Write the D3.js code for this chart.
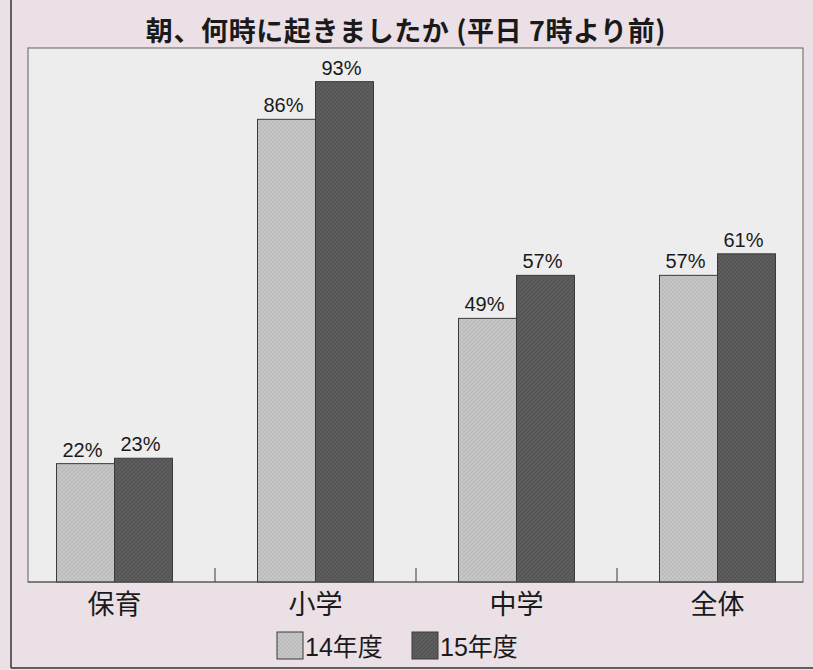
<!DOCTYPE html>
<meta charset="utf-8">
<script src="https://d3js.org/d3.v7.min.js"></script>
<style>
  body { margin: 0; background: #ebe0e6; }
  text { font-family: "Liberation Sans", "Noto Sans CJK JP", sans-serif; fill: #1a1a1a; }
</style>
<div id="my_dataviz"></div>
<script>
// data
var categories = ["保育", "小学", "中学", "全体"];
var seriesNames = ["14年度", "15年度"];
var values14 = [22, 86, 49, 57];
var values15 = [23, 93, 57, 61];
var labels14 = ["22%", "86%", "49%", "57%"];
var labels15 = ["23%", "93%", "57%", "61%"];

var W = 813, H = 670;
var plot = {left: 28, top: 48, right: 803, bottom: 582};

var svg = d3.select("#my_dataviz")
  .append("svg")
    .attr("width", W)
    .attr("height", H);

// hatch patterns for the bars
var defs = svg.append("defs");
function hatch(id, base, line) {
  var p = defs.append("pattern")
    .attr("id", id)
    .attr("patternUnits", "userSpaceOnUse")
    .attr("width", 4).attr("height", 4);
  p.append("rect").attr("width", 4).attr("height", 4).attr("fill", base);
  p.append("path").attr("d", "M0,4 L4,0").attr("stroke", line).attr("stroke-width", 0.7);
  p.append("path").attr("d", "M0,0 L4,4").attr("stroke", line).attr("stroke-width", 0.4).attr("opacity", 0.5);
}
hatch("h14", "#c6c6c6", "#b0b0b0");
hatch("h15", "#5e5e5e", "#4a4a4a");
var fills = {"14年度": "url(#h14)", "15年度": "url(#h15)"};

// outer frame
svg.append("rect")
  .attr("x", 0).attr("y", 0).attr("width", W).attr("height", H)
  .attr("fill", "#ebe0e6");
svg.append("line").attr("x1", 11).attr("x2", 11).attr("y1", 0).attr("y2", 668)
  .attr("stroke", "#333").attr("stroke-width", 1.5);
svg.append("line").attr("x1", 11).attr("x2", W).attr("y1", 668).attr("y2", 668)
  .attr("stroke", "#333").attr("stroke-width", 1.5);

// plot background
svg.append("rect")
  .attr("x", plot.left).attr("y", plot.top)
  .attr("width", plot.right - plot.left).attr("height", plot.bottom - plot.top)
  .attr("fill", "#ededed")
  .attr("stroke", "#777").attr("stroke-width", 1.2);

// title
svg.append("text")
  .attr("x", 406).attr("y", 41)
  .attr("text-anchor", "middle")
  .style("font-size", "27px")
  .style("font-weight", "bold")
  .style("letter-spacing", "0.6px")
  .style("font-family", "'Noto Sans CJK JP', sans-serif")
  .text("朝、何時に起きましたか (平日 7時より前)");

// scales
var x0 = d3.scaleBand()
  .domain(categories)
  .range([14, 818])
  .padding(0);
var barW = 58;
var x1 = d3.scaleBand()
  .domain(seriesNames)
  .range([x0.bandwidth() / 2 - barW, x0.bandwidth() / 2 + barW]);
var y = d3.scaleLinear()
  .domain([0, 100])
  .range([plot.bottom, 44]);

var rows = categories.map(function(c, i) {
  return [
    {cat: c, s: "14年度", v: values14[i], lab: labels14[i]},
    {cat: c, s: "15年度", v: values15[i], lab: labels15[i]}
  ];
});

var groups = svg.selectAll("g.grp")
  .data(rows)
  .enter()
  .append("g")
    .attr("class", "grp")
    .attr("transform", function(d) { return "translate(" + x0(d[0].cat) + ",0)"; });

groups.selectAll("rect")
  .data(function(d) { return d; })
  .enter()
  .append("rect")
    .attr("x", function(d) { return x1(d.s); })
    .attr("y", function(d) { return y(d.v); })
    .attr("width", x1.bandwidth())
    .attr("height", function(d) { return y(0) - y(d.v); })
    .attr("fill", function(d) { return fills[d.s]; })
    .attr("stroke", "#3a3a3a")
    .attr("stroke-width", 1);

groups.selectAll("text.val")
  .data(function(d) { return d; })
  .enter()
  .append("text")
    .attr("class", "val")
    .attr("x", function(d) { return x1(d.s) + x1.bandwidth() / 2 - 3; })
    .attr("y", function(d) { return y(d.v) - 7; })
    .attr("text-anchor", "middle")
    .style("font-size", "20px")
    .text(function(d) { return d.lab; });

// x axis: baseline, ticks between groups, labels
svg.append("line")
  .attr("x1", plot.left).attr("x2", plot.right)
  .attr("y1", plot.bottom).attr("y2", plot.bottom)
  .attr("stroke", "#555").attr("stroke-width", 1.2);

svg.selectAll("line.tick")
  .data(categories.slice(1))
  .enter()
  .append("line")
    .attr("class", "tick")
    .attr("x1", function(d) { return x0(d); })
    .attr("x2", function(d) { return x0(d); })
    .attr("y1", plot.bottom - 14).attr("y2", plot.bottom)
    .attr("stroke", "#555").attr("stroke-width", 1.2);

svg.selectAll("text.cat")
  .data(categories)
  .enter()
  .append("text")
    .attr("class", "cat")
    .attr("x", function(d) { return x0(d) + x0.bandwidth() / 2; })
    .attr("y", 614)
    .attr("text-anchor", "middle")
    .style("font-size", "27px")
    .style("font-family", "'Noto Sans CJK JP', sans-serif")
    .text(function(d) { return d; });

// legend
var legX = [277, 412];
var leg = svg.selectAll("g.leg")
  .data(seriesNames)
  .enter()
  .append("g")
    .attr("class", "leg")
    .attr("transform", function(d, i) { return "translate(" + legX[i] + ",632)"; });
leg.append("rect")
  .attr("width", 26).attr("height", 27)
  .attr("fill", function(d) { return fills[d]; })
  .attr("stroke", "#3a3a3a");
leg.append("text")
  .attr("x", 28).attr("y", 24)
  .style("font-size", "25px")
  .text(function(d) { return d; });
</script>
